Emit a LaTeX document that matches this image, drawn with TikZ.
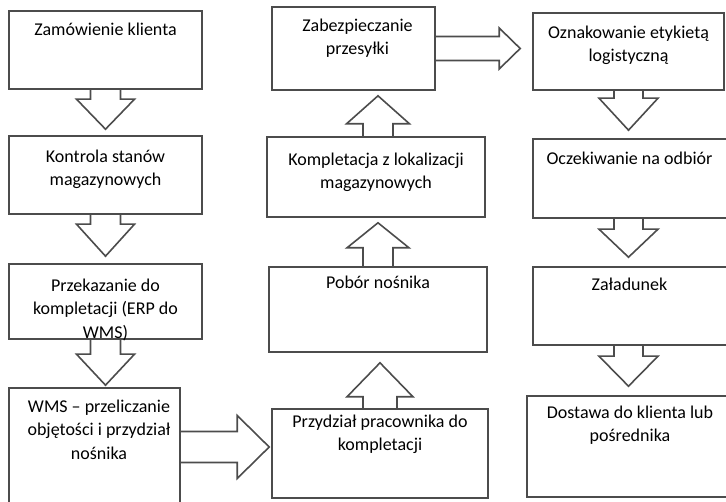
\documentclass[tikz,border=0pt]{standalone}
\usepackage{fontspec}
\setmainfont{Carlito}
\usetikzlibrary{calc}

\tikzset{
  box/.style={draw=black!70, line width=1.6pt, inner sep=0pt},
  boxtext/.style={anchor=north, inner sep=0pt, align=center,
    font=\fontsize{18}{23.5}\selectfont, execute at begin node=\strut},
  blk/.style={draw=black!70, line width=1.6pt, line join=miter},
}

% block arrow: #1 start, #2 tip, #3 shaft half width, #4 head half width, #5 head length
\newcommand{\blockarrow}[5]{%
  \draw[blk] let \p1=#1, \p2=#2,
      \n1={veclen(\x2-\x1,\y2-\y1)},
      \n2={(\x2-\x1)/\n1}, \n3={(\y2-\y1)/\n1},
      \p3=({\x2-#5*\n2},{\y2-#5*\n3}) in
    ({\x1-#3*\n3},{\y1+#3*\n2}) -- ({\x3-#3*\n3},{\y3+#3*\n2})
    -- ({\x3-#4*\n3},{\y3+#4*\n2}) -- (\p2)
    -- ({\x3+#4*\n3},{\y3-#4*\n2}) -- ({\x3+#3*\n3},{\y3-#3*\n2})
    -- ({\x1+#3*\n3},{\y1-#3*\n2});
}

\begin{document}
\begin{tikzpicture}[x=1pt, y=1pt]
  \useasboundingbox (0,0) rectangle (726,501);
  \clip (0,0) rectangle (726,501);

  %% left column
  \node[box, minimum width=193pt, minimum height=78pt] (zam) at (105.5,451) {};
  \node[box, minimum width=193pt, minimum height=78pt] (kon) at (105.5,326) {};
  \node[box, minimum width=193pt, minimum height=75pt] (prz) at (105.5,199.5) {};
  \node[box, minimum width=171pt, minimum height=118pt] (wms) at (94.5,54) {};

  %% middle column
  \node[box, minimum width=163pt, minimum height=83pt] (zab) at (353.5,452.5) {};
  \node[box, minimum width=218pt, minimum height=80pt] (komp) at (376,324) {};
  \node[box, minimum width=218pt, minimum height=85pt] (pob) at (378,191.5) {};
  \node[box, minimum width=216pt, minimum height=89pt] (pdz) at (380,47.5) {};

  %% right column (cut by the page edge)
  \node[box, minimum width=191pt, minimum height=77pt] (ozn) at (628.5,449.5) {};
  \node[box, minimum width=197pt, minimum height=79pt] (ocz) at (631.5,322.5) {};
  \node[box, minimum width=197pt, minimum height=78pt] (zal) at (631.5,195) {};
  \node[box, minimum width=203pt, minimum height=101pt] (dos) at (628.5,54.5) {};

  %% texts
  \node[boxtext] (zam-t) at ($(zam.north)+(0,-9.1)$) {Zamówienie klienta};
  \node[boxtext] (kon-t) at ($(kon.north)+(0,-14.6)$) {Kontrola stanów\\magazynowych};
  \node[boxtext] (prz-t) at ($(prz.north)+(0,-15.6)$) {Przekazanie do\\kompletacji (ERP do\\WMS)};
  \node[boxtext] (wms-t) at ($(wms.north)+(4.5,-12.6)$) {WMS – przeliczanie\\objętości i przydział\\nośnika};
  \node[boxtext] (zab-t) at ($(zab.north)+(4,-12.6)$) {Zabezpieczanie\\przesyłki};
  \node[boxtext] (komp-t) at ($(komp.north)+(0,-16.6)$) {Kompletacja z lokalizacji\\magazynowych};
  \node[boxtext] (pob-t) at ($(pob.north)+(0,-5.6)$) {Pobór nośnika};
  \node[boxtext] (pdz-t) at ($(pdz.north)+(0,-6.6)$) {Przydział pracownika do\\kompletacji};
  \node[boxtext] (ozn-t) at ($(ozn.north)+(0,-13.6)$) {Oznakowanie etykietą\\logistyczną};
  \node[boxtext] (ocz-t) at ($(ocz.north)+(-2,-9.6)$) {Oczekiwanie na odbiór};
  \node[boxtext] (zal-t) at ($(zal.north)+(-2,-7.6)$) {Załadunek};
  \node[boxtext] (dos-t) at ($(dos.north)+(1.5,-10.6)$) {Dostawa do klienta lub\\pośrednika};

  %% block arrows
  \blockarrow{(zam.south)}{($(zam.south |- kon.north)+(0,6)$)}{15}{29}{30}
  \blockarrow{(kon.south)}{($(kon.south |- prz.north)+(0,7)$)}{15}{29}{32}
  \blockarrow{(prz.south)}{($(prz.south |- wms.north)+(0,2)$)}{15}{29}{31}
  \blockarrow{(wms.east)}{($(wms.east -| pdz.west)+(-2,0)$)}{15.5}{31.5}{32}
  \blockarrow{(pdz.north)}{($(pdz.north |- pob.south)+(0,-10)$)}{17}{33}{34}
  \blockarrow{(pob.north)}{($(pob.north |- komp.south)+(0,-5)$)}{15}{31}{25}
  \blockarrow{($(pob.north |- komp.north)$)}{($(pob.north |- zab.south)+(0,-5)$)}{15}{31.5}{28}
  \blockarrow{(zab.east)}{($(zab.east -| ozn.west)+(-12,0)$)}{12}{20.5}{21}
  \blockarrow{(ozn.south)}{($(ozn.south |- ocz.north)+(0,8)$)}{14.5}{29.5}{32}
  \blockarrow{($(ozn.south |- ocz.south)$)}{($(ozn.south |- zal.north)+(0,9)$)}{14.5}{29.5}{28}
  \blockarrow{($(ozn.south |- zal.south)$)}{($(ozn.south |- dos.north)+(0,9)$)}{14.5}{29.5}{30}
\end{tikzpicture}
\end{document}
